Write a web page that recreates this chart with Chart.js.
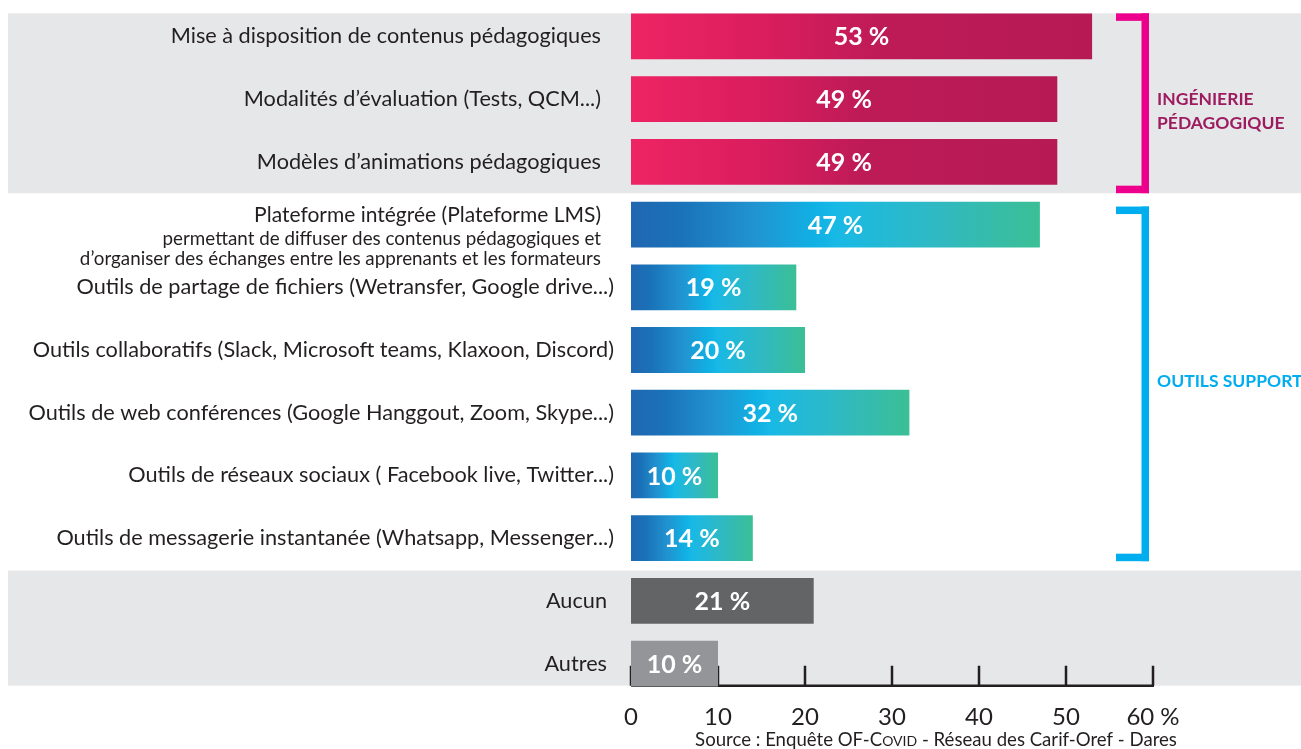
<!DOCTYPE html>
<html lang="fr">
<head>
<meta charset="utf-8">
<script src="https://cdn.jsdelivr.net/npm/chart.js@4.4.1/dist/chart.umd.min.js"></script>
<style>
  html, body { margin: 0; padding: 0; background: #fff; }
  #wrap { position: relative; width: 1301px; height: 749px; }
</style>
</head>
<body>
<div id="wrap"><canvas id="chart"></canvas></div>
<script>
const categories = [
    'Mise à disposition de contenus pédagogiques',
    'Modalités d’évaluation (Tests, QCM...)',
    'Modèles d’animations pédagogiques',
    ['Plateforme intégrée (Plateforme LMS)',
     'permettant de diffuser des contenus pédagogiques et',
     'd’organiser des échanges entre les apprenants et les formateurs'],
    'Outils de partage de fichiers (Wetransfer, Google drive...)',
    'Outils collaboratifs (Slack, Microsoft teams, Klaxoon, Discord)',
    'Outils de web conférences (Google Hanggout, Zoom, Skype...)',
    'Outils de réseaux sociaux ( Facebook live, Twitter...)',
    'Outils de messagerie instantanée (Whatsapp, Messenger...)',
    'Aucun',
    'Autres'
];
const values = [53, 49, 49, 47, 19, 20, 32, 10, 14, 21, 10];
const groups = ['ped', 'ped', 'ped', 'sup', 'sup', 'sup', 'sup', 'sup', 'sup', 'aucun', 'autres'];
const xTicks = [0, 10, 20, 30, 40, 50, 60];
const pedLabel = ['INGÉNIERIE', 'PÉDAGOGIQUE'];
const supLabel = ['OUTILS SUPPORT'];
const source = ['Source : Enquête OF-', 'C', 'OVID', ' - Réseau des Carif-Oref - Dares'];

const FONT = 'Lato, "Open Sans", sans-serif';
const INK = '#231f20';

Chart.defaults.font.family = FONT;

// couleur de chaque barre, dégradé calculé sur la longueur de la barre
function barFill(context) {
    const chart = context.chart;
    const i = context.dataIndex;
    if (groups[i] === 'aucun') return '#636466';
    if (groups[i] === 'autres') return '#939598';
    const x = chart.scales.x;
    if (i == null || !x) return '#b61a55';
    const x0 = x.getPixelForValue(0);
    const x1 = x.getPixelForValue(values[i]);
    if (!isFinite(x0) || !isFinite(x1)) return '#b61a55';
    const grad = chart.ctx.createLinearGradient(x0, 0, x1, 0);
    if (groups[i] === 'ped') {
        grad.addColorStop(0, '#ee2464');
        grad.addColorStop(0.3, '#d91d5d');
        grad.addColorStop(0.55, '#bd1b56');
        grad.addColorStop(1, '#b61a55');
    } else {
        grad.addColorStop(0, '#2067b1');
        grad.addColorStop(0.12, '#1a72b8');
        grad.addColorStop(0.3, '#2193d0');
        grad.addColorStop(0.45, '#10b1e4');
        grad.addColorStop(0.5, '#18b9e6');
        grad.addColorStop(0.75, '#30b9c2');
        grad.addColorStop(1, '#3bbf95');
    }
    return grad;
}

const decor = {
    id: 'decor',
    beforeDatasetsDraw(chart) {
        const { ctx } = chart;
        const x = chart.scales.x;
        const y = chart.scales.y;
        const py = i => y.getPixelForValue(i);
        const axisY = py(10) + 22;

        ctx.save();
        // bandes grises
        ctx.fillStyle = '#e6e7e8';
        const band1Top = py(0) - 23;
        const band1Bot = (py(2) + py(3)) / 2;
        const band2Top = (py(8) + py(9)) / 2 + 1;
        ctx.fillRect(8, band1Top, chart.width - 8, band1Bot - band1Top);
        ctx.fillRect(8, band2Top, chart.width - 8, axisY - band2Top);

        // axe horizontal et graduations
        ctx.strokeStyle = INK;
        ctx.lineWidth = 2.5;
        ctx.beginPath();
        ctx.moveTo(x.getPixelForValue(0), axisY);
        ctx.lineTo(x.getPixelForValue(60) + 1, axisY);
        xTicks.forEach(t => {
            const px = x.getPixelForValue(t);
            ctx.moveTo(px, axisY);
            ctx.lineTo(px, axisY - 20);
        });
        ctx.stroke();

        // libellés des catégories
        ctx.fillStyle = INK;
        ctx.textAlign = 'right';
        ctx.textBaseline = 'middle';
        categories.forEach((c, i) => {
            const cy = py(i);
            if (Array.isArray(c)) {
                ctx.font = '21px ' + FONT;
                ctx.fillText(c[0], 601, cy - 9);
                ctx.font = '18.8px ' + FONT;
                ctx.fillText(c[1], 601, cy + 14);
                ctx.fillText(c[2], 601, cy + 34);
            } else {
                const right = groups[i] === 'sup' ? 614 : groups[i] === 'ped' ? 601 : 607;
                ctx.font = '21.7px ' + FONT;
                ctx.fillText(c, right, cy);
            }
        });

        // accolades des groupes
        const bx0 = 1116, bx1 = 1149, lw = 7.5;
        function bracket(top, bottom, color) {
            ctx.fillStyle = color;
            ctx.fillRect(bx0, top, bx1 - bx0, lw);
            ctx.fillRect(bx0, bottom - lw, bx1 - bx0, lw);
            ctx.fillRect(bx1 - lw, top, lw, bottom - top);
        }
        bracket(band1Top, band1Bot, '#ec008c');
        bracket(py(3) - 18, py(8) + 23, '#00aeef');

        ctx.textAlign = 'left';
        ctx.font = 'bold 17.5px ' + FONT;
        ctx.fillStyle = '#9d1c5f';
        ctx.fillText(pedLabel[0], 1157, py(1));
        ctx.fillText(pedLabel[1], 1157, py(1) + 24);
        ctx.fillStyle = '#00aeef';
        ctx.fillText(supLabel[0], 1157, (py(3) + py(8)) / 2);
        ctx.restore();
    },
    afterDatasetsDraw(chart) {
        const { ctx } = chart;
        const meta = chart.getDatasetMeta(0);
        ctx.save();
        ctx.fillStyle = '#fff';
        ctx.font = 'bold 25px ' + FONT;
        ctx.textAlign = 'center';
        ctx.textBaseline = 'middle';
        meta.data.forEach((bar, i) => {
            ctx.fillText(values[i] + ' %', (bar.base + bar.x) / 2, bar.y + 1);
        });

        // source, avec "Covid" en petites capitales
        ctx.fillStyle = INK;
        ctx.textAlign = 'left';
        ctx.textBaseline = 'alphabetic';
        const big = '18.6px ' + FONT, small = '14px ' + FONT;
        const parts = [[source[0], big], [source[1], big], [source[2], small], [source[3], big]];
        let w = 0;
        parts.forEach(p => { ctx.font = p[1]; w += ctx.measureText(p[0]).width; });
        let sx = 936 - w / 2;
        parts.forEach(p => {
            ctx.font = p[1];
            ctx.fillText(p[0], sx, 746);
            sx += ctx.measureText(p[0]).width;
        });
        ctx.restore();
    }
};

new Chart(document.getElementById('chart'), {
    type: 'bar',
    data: {
        labels: categories,
        datasets: [{
            data: values,
            backgroundColor: barFill,
            borderWidth: 0,
            categoryPercentage: 1,
            barPercentage: 0.73
        }]
    },
    options: {
        indexAxis: 'y',
        responsive: true,
        maintainAspectRatio: false,
        animation: false,
        layout: { padding: { left: 631, right: 148, top: 5, bottom: 0 } },
        plugins: {
            legend: { display: false },
            tooltip: { enabled: false }
        },
        scales: {
            x: {
                min: 0,
                max: 60,
                afterFit: scale => { scale.height = 54; },
                afterBuildTicks: scale => { scale.ticks = xTicks.map(v => ({ value: v })); },
                ticks: {
                    color: INK,
                    padding: 0,
                    maxRotation: 0,
                    font: { size: 24 },
                    callback: v => v === 60 ? '60 %' : String(v)
                },
                grid: { display: false },
                border: { display: false }
            },
            y: { display: false }
        }
    },
    plugins: [decor]
});
</script>
</body>
</html>
